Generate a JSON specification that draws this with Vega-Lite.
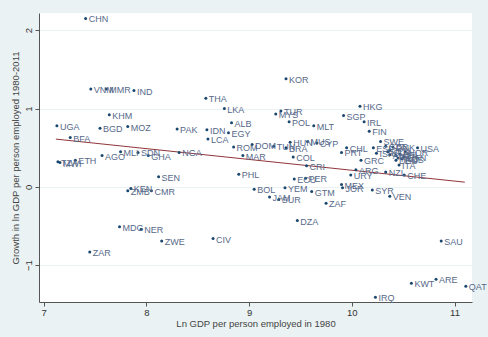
{
  "$schema": "https://vega.github.io/schema/vega-lite/v6.json",
  "width": 433,
  "height": 289,
  "autosize": {"type": "none"},
  "padding": {"left": 39, "top": 13, "right": 16, "bottom": 35},
  "background": "#eaf2f3",
  "config": {
    "font": "Liberation Sans",
    "view": {"fill": "white", "stroke": null},
    "axis": {
      "domainColor": "#555555",
      "tickColor": "#555555",
      "tickSize": 4,
      "labelColor": "#333333",
      "labelFontSize": 9.5,
      "titleColor": "#444444",
      "titleFontSize": 9.5,
      "titleFontWeight": "normal",
      "gridColor": "#eaf2f3",
      "gridWidth": 1
    }
  },
  "datasets": {
    "countries": [
      {"iso": "CHN", "ln1980": 7.41, "growth": 2.15},
      {"iso": "VNM", "ln1980": 7.46, "growth": 1.25},
      {"iso": "MMR", "ln1980": 7.61, "growth": 1.25},
      {"iso": "IND", "ln1980": 7.88, "growth": 1.23},
      {"iso": "KHM", "ln1980": 7.64, "growth": 0.92},
      {"iso": "UGA", "ln1980": 7.13, "growth": 0.78},
      {"iso": "BGD", "ln1980": 7.55, "growth": 0.75},
      {"iso": "MOZ", "ln1980": 7.82, "growth": 0.77},
      {"iso": "PAK", "ln1980": 8.30, "growth": 0.74},
      {"iso": "BFA", "ln1980": 7.26, "growth": 0.63},
      {"iso": "TZA", "ln1980": 7.14, "growth": 0.32},
      {"iso": "MWI", "ln1980": 7.16, "growth": 0.31},
      {"iso": "ETH", "ln1980": 7.31, "growth": 0.34},
      {"iso": "AGO", "ln1980": 7.57, "growth": 0.40},
      {"iso": "MLI", "ln1980": 7.75, "growth": 0.45},
      {"iso": "SDN", "ln1980": 7.92, "growth": 0.44},
      {"iso": "GHA", "ln1980": 8.02, "growth": 0.40},
      {"iso": "NGA", "ln1980": 8.32, "growth": 0.44},
      {"iso": "SEN", "ln1980": 8.12, "growth": 0.13},
      {"iso": "KEN", "ln1980": 7.85, "growth": -0.02},
      {"iso": "ZMB", "ln1980": 7.82, "growth": -0.05},
      {"iso": "CMR", "ln1980": 8.05, "growth": -0.05},
      {"iso": "MDG", "ln1980": 7.74, "growth": -0.51},
      {"iso": "NER", "ln1980": 7.95, "growth": -0.54},
      {"iso": "ZWE", "ln1980": 8.15, "growth": -0.69},
      {"iso": "ZAR", "ln1980": 7.45, "growth": -0.83},
      {"iso": "KOR", "ln1980": 9.36, "growth": 1.38},
      {"iso": "THA", "ln1980": 8.58, "growth": 1.13},
      {"iso": "LKA", "ln1980": 8.76, "growth": 1.00},
      {"iso": "TUR", "ln1980": 9.31, "growth": 0.97},
      {"iso": "MYS", "ln1980": 9.26, "growth": 0.93},
      {"iso": "ALB", "ln1980": 8.83, "growth": 0.82},
      {"iso": "POL", "ln1980": 9.39, "growth": 0.83},
      {"iso": "MLT", "ln1980": 9.63, "growth": 0.78},
      {"iso": "IDN", "ln1980": 8.59, "growth": 0.73},
      {"iso": "EGY", "ln1980": 8.80, "growth": 0.69},
      {"iso": "LCA", "ln1980": 8.60, "growth": 0.61},
      {"iso": "ROM", "ln1980": 8.85, "growth": 0.51},
      {"iso": "DOM", "ln1980": 9.03, "growth": 0.54},
      {"iso": "TUN", "ln1980": 9.24, "growth": 0.52},
      {"iso": "BRA", "ln1980": 9.36, "growth": 0.50},
      {"iso": "HUN", "ln1980": 9.40, "growth": 0.57},
      {"iso": "MUS", "ln1980": 9.57, "growth": 0.58},
      {"iso": "CYP", "ln1980": 9.66, "growth": 0.56},
      {"iso": "MAR", "ln1980": 8.94, "growth": 0.40},
      {"iso": "COL", "ln1980": 9.43, "growth": 0.38},
      {"iso": "CRI", "ln1980": 9.56, "growth": 0.27},
      {"iso": "PHL", "ln1980": 8.90, "growth": 0.16},
      {"iso": "BOL", "ln1980": 9.05, "growth": -0.03},
      {"iso": "JAM", "ln1980": 9.20, "growth": -0.13},
      {"iso": "SUR", "ln1980": 9.29, "growth": -0.16},
      {"iso": "YEM", "ln1980": 9.35, "growth": -0.01},
      {"iso": "ECU", "ln1980": 9.44, "growth": 0.10},
      {"iso": "PER", "ln1980": 9.55, "growth": 0.11},
      {"iso": "GTM", "ln1980": 9.61, "growth": -0.06},
      {"iso": "ZAF", "ln1980": 9.75, "growth": -0.21},
      {"iso": "DZA", "ln1980": 9.47, "growth": -0.43},
      {"iso": "CIV", "ln1980": 8.65, "growth": -0.66},
      {"iso": "MEX", "ln1980": 9.90, "growth": 0.03},
      {"iso": "JOR", "ln1980": 9.91, "growth": -0.01},
      {"iso": "SYR", "ln1980": 10.20, "growth": -0.04},
      {"iso": "VEN", "ln1980": 10.37, "growth": -0.12},
      {"iso": "URY", "ln1980": 9.99, "growth": 0.15},
      {"iso": "ARG", "ln1980": 10.04, "growth": 0.22},
      {"iso": "NZL", "ln1980": 10.33, "growth": 0.19},
      {"iso": "CHE", "ln1980": 10.51, "growth": 0.15},
      {"iso": "GRC", "ln1980": 10.09, "growth": 0.34},
      {"iso": "ITA", "ln1980": 10.46, "growth": 0.28},
      {"iso": "SAU", "ln1980": 10.87, "growth": -0.69},
      {"iso": "KWT", "ln1980": 10.58, "growth": -1.23},
      {"iso": "ARE", "ln1980": 10.82, "growth": -1.18},
      {"iso": "QAT", "ln1980": 11.11, "growth": -1.27},
      {"iso": "IRQ", "ln1980": 10.23, "growth": -1.41},
      {"iso": "HKG", "ln1980": 10.08, "growth": 1.03},
      {"iso": "SGP", "ln1980": 9.92, "growth": 0.91},
      {"iso": "IRL", "ln1980": 10.12, "growth": 0.83},
      {"iso": "FIN", "ln1980": 10.17, "growth": 0.71},
      {"iso": "SWE", "ln1980": 10.28, "growth": 0.58},
      {"iso": "USA", "ln1980": 10.64, "growth": 0.50},
      {"iso": "PRT", "ln1980": 9.90, "growth": 0.44},
      {"iso": "CHL", "ln1980": 9.95, "growth": 0.50},
      {"iso": "ESP", "ln1980": 10.21, "growth": 0.50},
      {"iso": "ISR", "ln1980": 10.24, "growth": 0.43},
      {"iso": "GBR", "ln1980": 10.33, "growth": 0.52},
      {"iso": "JPN", "ln1980": 10.37, "growth": 0.47},
      {"iso": "DNK", "ln1980": 10.40, "growth": 0.51},
      {"iso": "AUT", "ln1980": 10.37, "growth": 0.41},
      {"iso": "ISL", "ln1980": 10.35, "growth": 0.45},
      {"iso": "FRA", "ln1980": 10.43, "growth": 0.40},
      {"iso": "BEL", "ln1980": 10.47, "growth": 0.42},
      {"iso": "NLD", "ln1980": 10.45, "growth": 0.37},
      {"iso": "DEU", "ln1980": 10.43, "growth": 0.34},
      {"iso": "AUS", "ln1980": 10.49, "growth": 0.36},
      {"iso": "CAN", "ln1980": 10.51, "growth": 0.38},
      {"iso": "NOR", "ln1980": 10.52, "growth": 0.45}
    ],
    "fit": [
      {"ln1980": 7.12, "growth": 0.61},
      {"ln1980": 11.10, "growth": 0.06}
    ]
  },
  "encoding": {
    "x": {
      "field": "ln1980",
      "type": "quantitative",
      "scale": {"domain": [6.956, 11.17], "nice": false, "zero": false},
      "axis": {
        "title": "Ln GDP per person employed in 1980",
        "values": [7, 8, 9, 10, 11],
        "grid": false,
        "labelPadding": 1,
        "titlePadding": 2
      }
    },
    "y": {
      "field": "growth",
      "type": "quantitative",
      "scale": {"domain": [-1.47, 2.22], "nice": false, "zero": false},
      "axis": {
        "title": "Growth in ln GDP per person employed 1980-2011",
        "values": [-1, 0, 1, 2],
        "grid": true,
        "labelAngle": -90,
        "labelAlign": "center",
        "labelBaseline": "bottom",
        "labelPadding": 2,
        "titlePadding": 3
      }
    }
  },
  "layer": [
    {
      "data": {"name": "fit"},
      "mark": {"type": "line", "color": "#90353b", "strokeWidth": 1}
    },
    {
      "data": {"name": "countries"},
      "mark": {"type": "circle", "size": 9, "color": "#1a476f", "opacity": 1}
    },
    {
      "data": {"name": "countries"},
      "mark": {
        "type": "text",
        "align": "left",
        "baseline": "middle",
        "dx": 3,
        "dy": 1,
        "fontSize": 9,
        "color": "#56698a"
      },
      "encoding": {"text": {"field": "iso"}}
    }
  ]
}
